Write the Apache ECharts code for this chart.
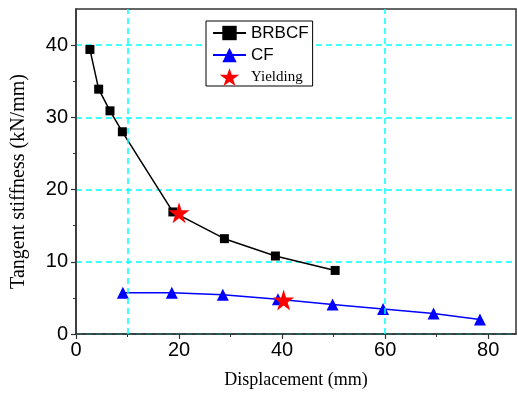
<!DOCTYPE html>
<html><head><meta charset="utf-8">
<script src="https://cdn.jsdelivr.net/npm/echarts@6/dist/echarts.min.js"></script>
<style>html,body{margin:0;padding:0;background:#fff}#c{width:518px;height:394px}</style>
</head><body><div id="c"></div>
<script>
var brbcfX = [2.7, 4.4, 6.6, 9.0, 18.8, 28.8, 38.7, 50.3];
var brbcfY = [39.4, 33.9, 30.9, 28.0, 16.9, 13.2, 10.8, 8.8];
var cfX = [9.1, 18.6, 28.5, 39.2, 49.8, 59.6, 69.4, 78.4];
var cfY = [5.7, 5.7, 5.45, 4.8, 4.1, 3.45, 2.85, 2.0];
var yieldX = [20.0, 40.3];
var yieldY = [16.8, 4.7];
var xTicks = [0, 20, 40, 60, 80];
var yTicks = [0, 10, 20, 30, 40];
var vGrid = [10, 60];

function pairs(xs, ys){ return xs.map(function(x,i){return [x, ys[i]];}); }
var CYAN = '#00ffff';
var GRIDLINE = {color: CYAN, type: [6, 4], width: 1.5, opacity: 1};
var STAR = 'path://M50,0 L61.8,35.4 L100,35.4 L69.1,57.3 L80.9,92.7 L50,70.8 L19.1,92.7 L30.9,57.3 L0,35.4 L38.2,35.4 Z';
var sans = 'Liberation Sans, Arial, sans-serif';
var serif = 'Liberation Serif, Times New Roman, serif';

var chart = echarts.init(document.getElementById('c'));
chart.setOption({
  animation: false,
  grid: {left: 76, right: 2, top: 9, bottom: 57, show: true, borderColor: '#333', borderWidth: 1.5, backgroundColor: 'transparent'},
  legend: {
    left: 206, top: 21, orient: 'vertical', itemGap: 4, itemWidth: 33, itemHeight: 18,
    borderColor: '#000', borderWidth: 1, padding: [3, 4, 0, 6], backgroundColor: '#fff',
    textStyle: {lineHeight: 18},
    data: [
      {name: 'BRBCF', textStyle: {fontFamily: sans, fontSize: 17, color: '#000', lineHeight: 18}},
      {name: 'CF', textStyle: {fontFamily: sans, fontSize: 17, color: '#000', lineHeight: 18}},
      {name: 'Yielding', textStyle: {fontFamily: serif, fontSize: 15, color: '#000', lineHeight: 18}}
    ]
  },
  xAxis: {
    type: 'value', min: 0, max: 85.4, interval: 20,
    name: 'Displacement (mm)', nameLocation: 'middle', nameGap: 37,
    nameTextStyle: {fontFamily: serif, fontSize: 18, color: '#000'},
    axisLine: {show: true, onZero: false, lineStyle: {color: '#333', width: 1.5}},
    axisTick: {show: true, inside: false, length: 5, lineStyle: {color: '#333', width: 1.2},
      customValues: xTicks},
    minorTick: {show: true, splitNumber: 2, length: 3, lineStyle: {color: '#333'}},
    axisLabel: {fontFamily: sans, fontSize: 20, color: '#000', margin: 6, customValues: xTicks},
    splitLine: {show: false}
  },
  yAxis: {
    type: 'value', min: 0, max: 45, interval: 10,
    name: 'Tangent stiffness (kN/mm)', nameLocation: 'middle', nameGap: 47,
    nameTextStyle: {fontFamily: serif, fontSize: 20, color: '#000', padding: [0, 20, 0, 0]},
    axisLine: {show: true, lineStyle: {color: '#333', width: 1.5}},
    axisTick: {show: true, length: 5, lineStyle: {color: '#333', width: 1.2}, customValues: yTicks},
    minorTick: {show: true, splitNumber: 2, length: 3, lineStyle: {color: '#333'}},
    axisLabel: {fontFamily: sans, fontSize: 20, color: '#000', margin: 8, customValues: yTicks},
    splitLine: {show: true, lineStyle: GRIDLINE}
  },
  series: [
    {
      name: 'BRBCF', type: 'line', data: pairs(brbcfX, brbcfY),
      symbol: 'rect', symbolSize: 9, showAllSymbol: true,
      lineStyle: {color: '#000', width: 1.5}, itemStyle: {color: '#000'},
      markLine: {silent: true, symbol: ['none','none'], label: {show: false},
        lineStyle: GRIDLINE, emphasis: {disabled: true},
        data: vGrid.map(function(v){return {xAxis: v, lineStyle: GRIDLINE};})}
    },
    {
      name: 'CF', type: 'line', data: pairs(cfX, cfY),
      symbol: 'triangle', symbolSize: 12, showAllSymbol: true,
      lineStyle: {color: '#0000ff', width: 1.5}, itemStyle: {color: '#0000ff'}
    },
    {
      name: 'Yielding', type: 'scatter', data: pairs(yieldX, yieldY),
      symbol: STAR, symbolSize: 21, itemStyle: {color: '#ff0000', opacity: 1}, z: 5
    }
  ]
});
</script>
</body></html>
